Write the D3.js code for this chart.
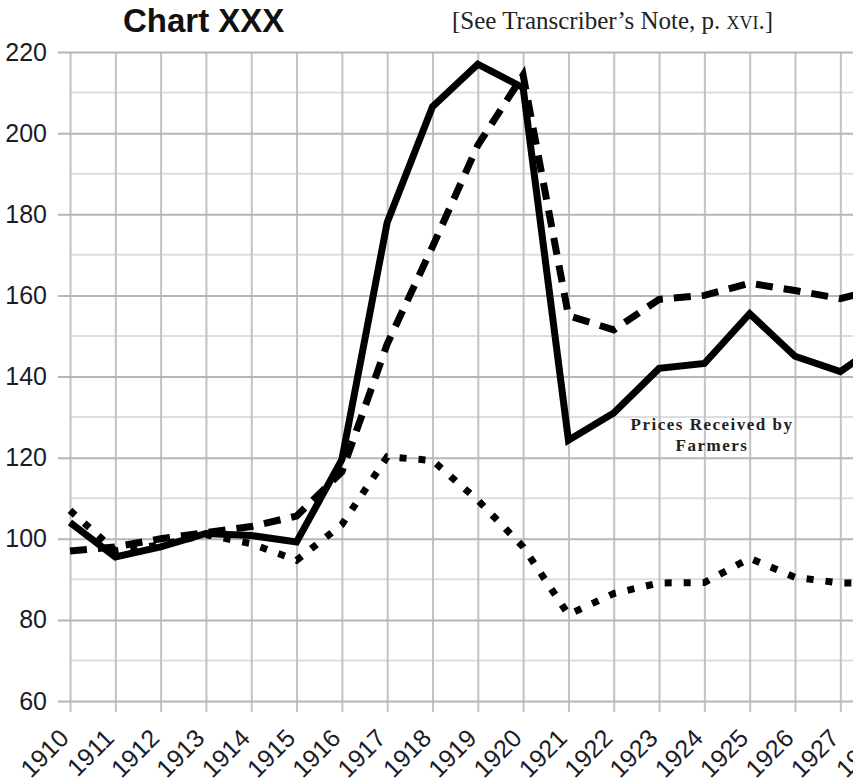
<!DOCTYPE html>
<html><head><meta charset="utf-8">
<script src="https://cdn.jsdelivr.net/npm/d3@7"></script>
<style>body{margin:0;background:#fff;overflow:hidden;} svg{display:block;}</style>
</head><body><svg id="c" width="853" height="784"></svg>
<script>
const years = [1910,1911,1912,1913,1914,1915,1916,1917,1918,1919,1920,1921,1922,1923,1924,1925,1926,1927,1928];
const solidSeries  = [104,95.5,98,101.3,100.8,99.2,119.5,178,206.5,217,211.2,124.3,131,142,143.2,155.5,145,141.2,149];
const dashedSeries = [97,98,100,101.5,103,105.6,116.5,148,172,197,214.3,155,151.5,159,160,163,161.2,159.2,162];
const dottedSeries = [107,97,98.5,101,98.8,94.7,103.5,120.2,119.3,109.5,98,81.3,86.5,89.1,89.2,95.2,90.5,89.1,89];
const yTickValues = [60,80,100,120,140,160,180,200,220];
const yMinorValues = [70,90,110,130,150,170,190,210];
const titleText = "Chart XXX";
const noteText = "[See Transcriber\u2019s Note, p. ";
const noteSmall = "XVI";
const noteEnd = ".]";
const annotationLines = ["Prices Received by","Farmers"];

const svg = d3.select("#c");
const x = d3.scaleLinear().domain([1910,1927]).range([70,840.3]);
const y = d3.scaleLinear().domain([60,220]).range([701,52]);

// minor horizontal grid
svg.append("g").selectAll("line").data(yMinorValues).join("line")
  .attr("x1",70).attr("x2",853).attr("y1",d=>y(d)).attr("y2",d=>y(d))
  .attr("stroke","#dedede").attr("stroke-width",2);

// vertical grid + ticks
const xAxis = d3.axisBottom(x).tickValues(years).tickFormat(d3.format("d"))
  .tickSizeInner(-(701-52)-11).tickSizeOuter(0).tickPadding(0);
const gx = svg.append("g").attr("transform","translate(0,712)").call(xAxis);
gx.select(".domain").remove();
gx.selectAll(".tick line").attr("stroke","#c2c2c2").attr("stroke-width",2);
gx.selectAll(".tick text")
  .attr("font-family","Liberation Sans, Arial, sans-serif").attr("font-size",25)
  .attr("fill","#1c1c28").attr("text-anchor","end")
  .attr("transform","translate(-13,15) rotate(-45)").attr("dy","0.72em").attr("y",0).attr("x",0);

// major horizontal grid + y labels
const yAxis = d3.axisLeft(y).tickValues(yTickValues).tickFormat(d3.format("d"))
  .tickSizeInner(-(853-58)).tickSizeOuter(0).tickPadding(10);
const gy = svg.append("g").attr("transform","translate(58,0)").call(yAxis);
gy.select(".domain").remove();
gy.selectAll(".tick line").attr("stroke","#b6b6b6").attr("stroke-width",2).attr("x1",0).attr("x2",853-58);
gy.selectAll(".tick text")
  .attr("font-family","Liberation Sans, Arial, sans-serif").attr("font-size",25)
  .attr("fill","#1c1c28").attr("x",-11);

// series
const line = d3.line().x((d,i)=>x(years[i])).y(d=>y(d));
svg.append("path").datum(solidSeries).attr("d",line)
  .attr("fill","none").attr("stroke","#000").attr("stroke-width",7).attr("stroke-linejoin","miter");
svg.append("path").datum(dashedSeries).attr("d",line)
  .attr("fill","none").attr("stroke","#000").attr("stroke-width",7).attr("stroke-dasharray","17,11");
svg.append("path").datum(dottedSeries).attr("d",line)
  .attr("fill","none").attr("stroke","#000").attr("stroke-width",7).attr("stroke-dasharray","7,12");

// title
svg.append("text").attr("x",123).attr("y",32).text(titleText)
  .attr("font-family","Liberation Sans, Arial, sans-serif").attr("font-weight","bold")
  .attr("font-size",33).attr("fill","#111");
const note = svg.append("text").attr("x",452).attr("y",29)
  .attr("font-family","Liberation Serif, serif").attr("font-size",25).attr("fill","#222");
note.append("tspan").text(noteText);
note.append("tspan").attr("font-size",18).text(noteSmall);
note.append("tspan").text(noteEnd);

// annotation
svg.append("text").attr("text-anchor","middle")
  .attr("font-family","Liberation Serif, serif").attr("font-weight","bold").attr("font-size",17)
  .attr("letter-spacing",1.5).attr("fill","#222")
  .selectAll("tspan").data(annotationLines).join("tspan")
  .attr("x",712).attr("y",(d,i)=>430+i*21).text(d=>d);
</script></body></html>
